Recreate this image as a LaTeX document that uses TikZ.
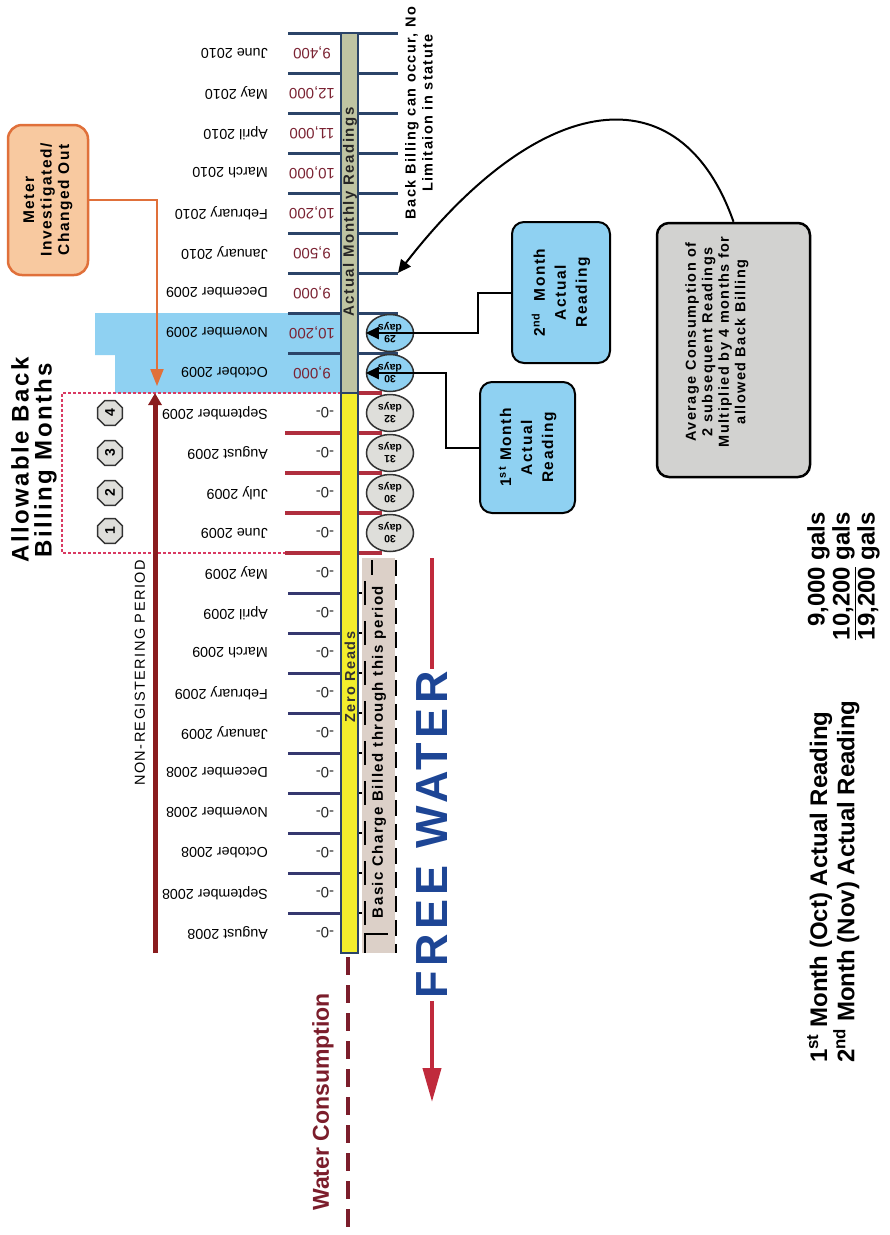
\documentclass[tikz,border=0pt]{standalone}
\usepackage{fontspec}
\setmainfont{Liberation Sans}
\newfontfamily\spfont[LetterSpace=10]{Liberation Sans}
\usepackage{tikz}
\usetikzlibrary{arrows.meta,shapes.geometric}

\definecolor{navyline}{HTML}{2B4468}
\definecolor{lownavy}{HTML}{35386F}
\definecolor{tickred}{HTML}{B02E3E}
\definecolor{readfill}{HTML}{BFC4A2}
\definecolor{zerofill}{HTML}{F3EE2C}
\definecolor{skyfill}{HTML}{8FD1F2}
\definecolor{ovalgray}{HTML}{DEDEDA}
\definecolor{boxgray}{HTML}{D2D2D0}
\definecolor{meterfill}{HTML}{F8C9A0}
\definecolor{meterline}{HTML}{E0703A}
\definecolor{allowpink}{HTML}{D93A62}
\definecolor{nonregred}{HTML}{8A1C1E}
\definecolor{valred}{HTML}{7A2232}
\definecolor{freeblue}{HTML}{1D4595}
\definecolor{freered}{HTML}{C02A3C}
\definecolor{basicbeige}{HTML}{DCD0C8}
\definecolor{wcred}{HTML}{7B1D2B}

\begin{document}
\begin{tikzpicture}[x=1pt,y=-1pt]
    % `month' and `reading' are the upside-down labels along the bar.
    % `daysoval' is used for the billing-days ovals, `octnum' for the 1-4 marks.
    % `readbox' is used for the blue reading boxes.
    \tikzstyle{month} = [rotate=180,anchor=west,inner sep=0pt,font=\fontsize{14.3}{16}\selectfont]
    \tikzstyle{reading} = [rotate=180,inner sep=0pt,text=valred,font=\fontsize{15}{16}\selectfont]
    \tikzstyle{zero} = [rotate=180,inner sep=0pt,text=black!85,font=\fontsize{15}{16}\selectfont]
    \tikzstyle{navytick} = [draw=navyline,line width=3pt]
    \tikzstyle{redtick} = [draw=tickred,line width=3.5pt]
    \tikzstyle{lowtick} = [draw=lownavy,line width=3pt]
    \tikzstyle{blacktick} = [draw=black,line width=1.8pt]
    \tikzstyle{daysoval} = [draw=black!80,line width=1.5pt,ellipse,minimum width=47pt,minimum height=37pt,inner sep=0pt,rotate=180,align=center,font=\bfseries\fontsize{10.5}{11}\selectfont]
    \tikzstyle{octnum} = [draw=black!80,fill=ovalgray,line width=1.5pt,regular polygon,regular polygon sides=8,minimum size=27pt,inner sep=0pt,rotate=90,font=\bfseries\fontsize{14}{14}\selectfont]
    \tikzstyle{readbox} = [draw=black,line width=2pt,fill=skyfill,rounded corners=12pt,rotate=90,align=center,font=\spfont\bfseries\fontsize{15.5}{21}\selectfont]
    \tikzstyle{allowline} = [draw=allowpink,line width=2.5pt,dash pattern=on 3pt off 2pt]
    \tikzstyle{conn} = [draw=black,line width=2pt,-{Triangle[length=13pt,width=12pt]}]
    %
    \useasboundingbox (0,0) rectangle (890,1235);
    % Shaded months and allowable box.
    \fill[skyfill] (95,313) -- (341,313) -- (341,393) -- (115,393) -- (115,355) -- (95,355) -- cycle;
    \draw[allowline] (341,393) -- (62,393) -- (62,553) -- (288,553);
    %
    % Tick lines.
    \foreach \k in {0,...,8}
      \draw[navytick] (288,33+40*\k) -- (398,33+40*\k) coordinate (tr\k);
    \draw[redtick] (358,393) -- (382,393);
    \foreach \k in {10,...,13}
      \draw[redtick] (285,33+40*\k) -- (382,33+40*\k);
    \foreach \k in {14,...,22} {
      \draw[lowtick] (288,33+40*\k) -- (341,33+40*\k);
      \draw[blacktick] (358,33+40*\k) -- (371,33+40*\k);
    }
    %
    % The bar.
    \draw[navyline,line width=1.2pt,fill=readfill] (341,33) rectangle (358,393);
    \draw[navyline,line width=1.2pt,fill=zerofill] (341,393) rectangle (358,953);
    \node[rotate=90,text=black!85,font=\spfont\bfseries\fontsize{15}{16}\selectfont] (amr) at (350,212) {Actual Monthly Readings};
    \node[rotate=90,text=black!80,font=\spfont\bfseries\fontsize{14.5}{15}\selectfont] (zr) at (350,677) {Zero Reads};
    %
    % Basic charge band.
    \fill[basicbeige] (362,558) rectangle (395,953);
    \draw[black,line width=1.8pt,dash pattern=on 24pt off 16pt] (365,581) -- (365,953);
    \draw[black,line width=1.8pt] (372,560) -- (372,575);
    \draw[black,line width=2pt] (365,953) -- (365,934) -- (388,934);
    \draw[black,line width=2pt,dash pattern=on 16pt off 8pt] (396,560) -- (396,953);
    \node[rotate=90,font=\spfont\bfseries\fontsize{15}{16}\selectfont] (basic) at (379,752) {Basic Charge Billed through this period};
    %
    % Months and readings.
    \foreach \mon/\val [count=\k from 0] in {June 2010/9{,}400, May 2010/12{,}000, April 2010/11{,}000, March 2010/10{,}000, February 2010/10{,}200, January 2010/9{,}500, December 2009/9{,}000, November 2009/10{,}200, October 2009/9{,}000} {
      \node[month] (m\k) at (268,53+40*\k) {\mon};
      \node[reading] (r\k) at (312,53+40*\k) {\val};
    }
    \foreach \mon [count=\k from 9] in {September 2009, August 2009, July 2009, June 2009, May 2009, April 2009, March 2009, February 2009, January 2009, December 2008, November 2008, October 2008, September 2008, August 2008} {
      \node[month] (m\k) at (268,53+40*\k) {\mon};
      \node[zero] (r\k) at (325,53+40*\k) {-0-};
    }
    %
    % Billing days.
    \foreach \d/\f [count=\k from 7] in {29/skyfill, 30/skyfill, 32/ovalgray, 31/ovalgray, 30/ovalgray, 30/ovalgray}
      \node[daysoval,fill=\f] (oval\k) at (390,53+40*\k) {\d\\days};
    \foreach \octn/\y in {4/413, 3/453, 2/493, 1/531}
      \node[octnum] (oct\octn) at (110,\y) {\octn};
    \node[rotate=90,align=center,font=\spfont\bfseries\fontsize{24}{23}\selectfont] (allow) at (34,460) {Allowable Back\\Billing Months};
    %
    % Non-registering period.
    \coordinate (nrbot) at (155,953);
    \coordinate (nrtop) at (155,393);
    \draw[nonregred,line width=5pt,-{Triangle[length=12pt,width=13pt]}] (nrbot) -- (nrtop);
    \node[rotate=90,font=\spfont\fontsize{14.5}{15}\selectfont] (nrtext) at (140,673) {NON-REGISTERING PERIOD};
    %
    % Meter box.
    \node[draw=meterline,line width=2.5pt,fill=meterfill,rounded corners=14pt,rotate=90,minimum width=150pt,minimum height=80pt,align=center,font=\spfont\bfseries\fontsize{15.5}{17.5}\selectfont] (meter) at (48,200) {Meter\\Investigated/\\Changed Out};
    \coordinate (mtip) at (157,386);
    \draw[meterline,line width=2pt,-{Triangle[length=17pt,width=13pt]}] (meter.south) -| (mtip);
    %
    % Reading boxes.
    \node[readbox,minimum width=131pt,minimum height=95pt] (first) at (527.5,447.5) {1\textsuperscript{st} Month\\Actual\\Reading};
    \node[readbox,minimum width=141pt,minimum height=98pt] (second) at (561,292.5) {2\textsuperscript{nd}\ \ Month\\Actual\\Reading};
    \draw[conn] (first.north) -- ++(-33,0) |- (oval8.east);
    \draw[conn] (second.north) -- ++(-33,0) |- (oval7.east);
    %
    % Average box and curved arrow.
    \node[draw=black,line width=2.5pt,fill=boxgray,rounded corners=12pt,rotate=90,minimum width=254pt,minimum height=153pt] (avg) at (733.5,350) {};
    \node[rotate=90,align=center,font=\spfont\bfseries\fontsize{14.5}{16.5}\selectfont] (avgtext) at (717,342) {Average Consumption of\\2 subsequent Readings\\Multiplied by 4 months for\\allowed Back Billing};
    \draw[conn] (avg.east) .. controls (680,70) and (540,90) .. (tr6);
    \node[rotate=90,align=center,font=\spfont\bfseries\fontsize{14.5}{17}\selectfont] (backbill) at (419,113) {Back Billing can occur, No\\Limitaion in statute};
    %
    % Free water.
    \node[rotate=90,text=freeblue,inner sep=2pt,font=\spfont\bfseries\fontsize{45}{45}\selectfont] (free) at (432,835) {FREE WATER};
    \coordinate (fwtop) at (432,558);
    \coordinate (fwtip) at (432,1102);
    \draw[freered,line width=4pt] (fwtop) -- (free.east);
    \draw[freered,line width=4pt,-{Triangle[length=34pt,width=18pt]}] (free.west) -- (fwtip);
    \node[rotate=90,text=wcred,font=\bfseries\fontsize{23}{23}\selectfont] (wc) at (323,1102) {Water Consumption};
    \coordinate (wctop) at (348,957);
    \coordinate (wcbot) at (348,1235);
    \draw[wcred,line width=4pt,dash pattern=on 18pt off 10pt] (wctop) -- (wcbot);
    %
    % Totals.
    \node[rotate=90,anchor=north west,align=left,inner sep=0pt,font=\bfseries\fontsize{24}{25}\selectfont] (totlabel) at (807,1063) {1\textsuperscript{st} Month (Oct) Actual Reading\\2\textsuperscript{nd} Month (Nov) Actual Reading};
    \node[rotate=90,anchor=north east,align=right,inner sep=0pt,font=\bfseries\fontsize{24}{25}\selectfont] (totvalue) at (807,512) {9,000 gals\\\underline{10,200} gals\\19,200 gals};
\end{tikzpicture}
\end{document}
